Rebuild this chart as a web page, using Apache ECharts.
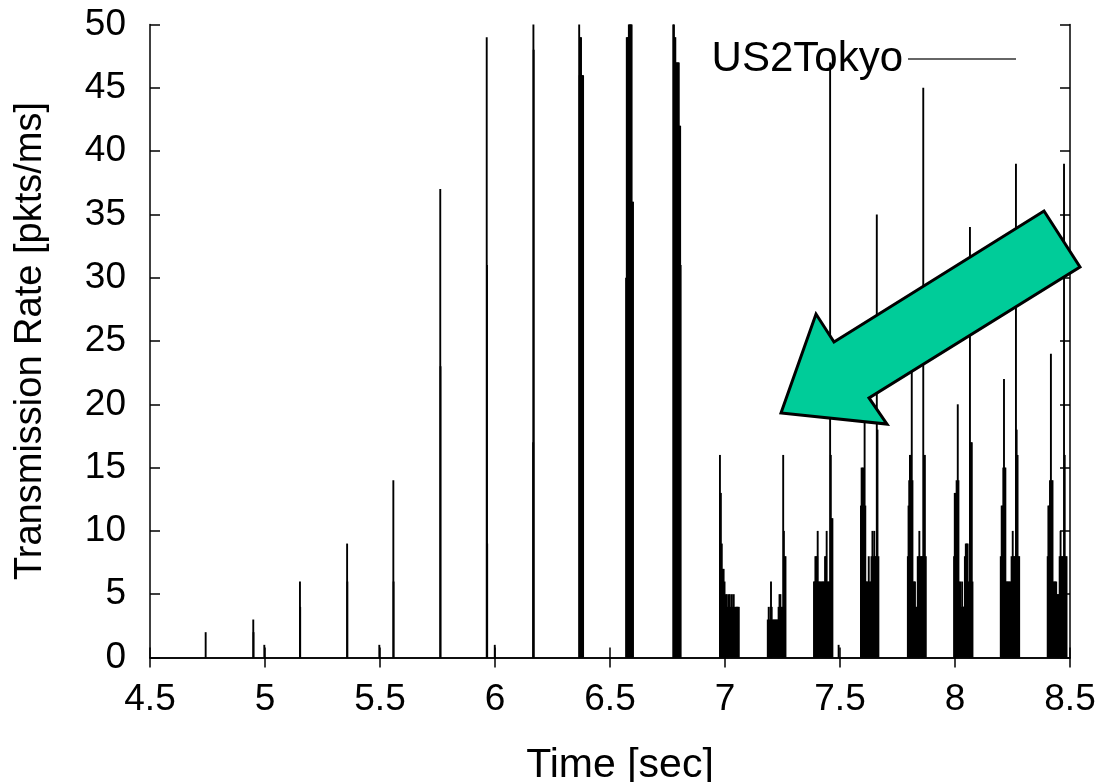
<!DOCTYPE html>
<html>
<head>
<meta charset="utf-8">
<script src="https://cdn.jsdelivr.net/npm/echarts@6/dist/echarts.min.js"></script>
<style>
html,body{margin:0;padding:0;background:#fff;}
#chart{width:1103px;height:782px;}
</style>
</head>
<body>
<div id="chart"></div>
<script>
// ---- data: [time (sec), rate (pkts/ms)] impulses ----
const slowStart = [
  [4.742, 2], [4.949, 3], [4.950, 2], [4.997, 1],
  [5.152, 6], [5.153, 4], [5.357, 9], [5.358, 6], [5.497, 1],
  [5.558, 14], [5.559, 6], [5.762, 37], [5.763, 23],
  [5.964, 49], [5.965, 31], [5.966, 9], [5.999, 1],
  [6.166, 17], [6.167, 52], [6.168, 48]
];
const burst637 = [[6.366, 52], [6.368, 46], [6.371, 49], [6.374, 49], [6.377, 46], [6.380, 46], [6.383, 46]];
const burst657 = [[6.570, 30], [6.573, 49], [6.576, 49], [6.579, 49], [6.582, 52], [6.585, 52], [6.588, 52], [6.591, 52], [6.594, 52], [6.597, 36], [6.600, 36]];
const burst677 = [[6.775, 52], [6.778, 52], [6.781, 49], [6.784, 49], [6.787, 47], [6.790, 47], [6.793, 47], [6.796, 47], [6.799, 47], [6.802, 42], [6.805, 42], [6.807, 31]];
const burst700 = [[6.978, 16], [6.982, 13], [6.986, 9], [6.990, 7], [6.994, 7], [6.998, 6], [7.003, 5], [7.008, 5], [7.012, 4], [7.016, 5], [7.021, 5], [7.025, 4], [7.030, 5], [7.034, 4], [7.038, 5], [7.043, 4], [7.047, 4], [7.052, 4], [7.056, 4], [7.060, 4]];
const burst720 = [[7.186, 3], [7.190, 4], [7.194, 3], [7.198, 4], [7.200, 6], [7.203, 4], [7.207, 3], [7.211, 3], [7.216, 3], [7.220, 3], [7.225, 3], [7.229, 3], [7.233, 4], [7.237, 5], [7.241, 5], [7.246, 4], [7.250, 4], [7.253, 16], [7.256, 10], [7.259, 8], [7.263, 8]];
const burst740 = [[7.387, 6], [7.390, 6], [7.393, 8], [7.397, 8], [7.401, 8], [7.403, 10], [7.406, 6], [7.410, 6], [7.414, 6], [7.419, 6], [7.423, 6], [7.427, 6], [7.431, 6], [7.435, 8], [7.439, 8], [7.442, 10], [7.445, 6], [7.449, 6], [7.453, 6], [7.457, 47], [7.460, 16], [7.464, 11], [7.467, 11], [7.494, 1]];
const burst760 = [[7.591, 12], [7.594, 15], [7.598, 15], [7.602, 15], [7.607, 20], [7.610, 12], [7.613, 6], [7.617, 6], [7.621, 6], [7.625, 8], [7.629, 6], [7.633, 6], [7.637, 8], [7.641, 10], [7.645, 8], [7.649, 10], [7.652, 8], [7.656, 8], [7.660, 35], [7.663, 18], [7.667, 8]];
const burst780 = [[7.795, 8], [7.798, 12], [7.801, 14], [7.804, 16], [7.808, 16], [7.812, 23], [7.815, 14], [7.818, 6], [7.822, 6], [7.826, 6], [7.830, 4], [7.834, 4], [7.838, 8], [7.842, 8], [7.845, 10], [7.849, 8], [7.853, 8], [7.857, 8], [7.860, 8], [7.862, 45], [7.865, 16], [7.869, 16], [7.873, 8]];
const burst800 = [[7.996, 8], [7.999, 13], [8.003, 13], [8.007, 14], [8.012, 20], [8.015, 14], [8.019, 6], [8.023, 6], [8.027, 4], [8.031, 6], [8.035, 4], [8.039, 4], [8.043, 8], [8.047, 9], [8.051, 9], [8.055, 9], [8.059, 6], [8.063, 6], [8.065, 34], [8.069, 17], [8.073, 17], [8.076, 6]];
const burst820 = [[8.199, 8], [8.203, 12], [8.207, 12], [8.210, 15], [8.213, 22], [8.216, 15], [8.219, 15], [8.222, 6], [8.226, 6], [8.230, 6], [8.234, 6], [8.238, 6], [8.242, 6], [8.246, 8], [8.251, 10], [8.254, 8], [8.258, 8], [8.262, 8], [8.265, 39], [8.268, 18], [8.272, 16], [8.276, 8], [8.279, 8]];
const burst840 = [[8.403, 8], [8.406, 12], [8.410, 12], [8.413, 14], [8.417, 24], [8.420, 14], [8.424, 14], [8.428, 6], [8.432, 6], [8.436, 6], [8.440, 6], [8.444, 5], [8.448, 5], [8.451, 5], [8.455, 8], [8.459, 10], [8.462, 8], [8.466, 8], [8.470, 8], [8.474, 39], [8.477, 16], [8.481, 8], [8.485, 8]];

const seriesName = 'US2Tokyo';
const xTicks = { min: 4.5, max: 8.5, interval: 0.5 };
const yTicks = { min: 0, max: 50, interval: 5 };
// annotation arrow outline, in data coordinates
const arrowOutline = [[7.2435, 19.31], [7.3957, 27.13], [7.4739, 24.92], [8.3870, 35.27], [8.5435, 30.85], [7.6261, 20.50], [7.7043, 18.44]];

const allData = [].concat(slowStart, burst637, burst657, burst677, burst700, burst720, burst740, burst760, burst780, burst800, burst820, burst840);

const FONT = 'Liberation Sans, Arial, sans-serif';
const chart = echarts.init(document.getElementById('chart'), null, { renderer: 'canvas' });

const axisLineStyle = { color: '#000', width: 1.5 };
const tickStyle = { show: true, inside: true, length: 10, lineStyle: { color: '#000', width: 1.5 } };

chart.setOption({
  animation: false,
  backgroundColor: '#fff',
  grid: { left: 150, right: 33, top: 24.5, bottom: 124.5, containLabel: false, outerBoundsMode: 'none' },
  legend: {
    data: [{ name: seriesName, icon: 'rect' }],
    right: 82, top: 33,
    align: 'right',
    itemWidth: 108, itemHeight: 1.5,
    itemStyle: { color: '#333' },
    textStyle: { fontFamily: FONT, fontSize: 42, color: '#000' },
    selectedMode: false
  },
  xAxis: [{
    type: 'value', position: 'bottom',
    min: xTicks.min, max: xTicks.max, interval: xTicks.interval,
    axisLine: { show: true, lineStyle: axisLineStyle },
    axisTick: tickStyle,
    splitLine: { show: false },
    axisLabel: { color: '#000', fontFamily: FONT, fontSize: 37, margin: 24 },
    name: 'Time [sec]', nameLocation: 'middle', nameGap: 88,
    nameTextStyle: { color: '#000', fontFamily: FONT, fontSize: 41, padding: [0, 0, 0, 20] }
  }, {
    type: 'value', position: 'top',
    min: xTicks.min, max: xTicks.max, interval: xTicks.interval,
    axisLine: { show: true, lineStyle: axisLineStyle },
    axisTick: tickStyle,
    splitLine: { show: false },
    axisLabel: { show: false }
  }],
  yAxis: [{
    type: 'value', position: 'left',
    min: yTicks.min, max: yTicks.max, interval: yTicks.interval,
    axisLine: { show: true, lineStyle: axisLineStyle },
    axisTick: tickStyle,
    splitLine: { show: false },
    axisLabel: { color: '#000', fontFamily: FONT, fontSize: 37, margin: 24 },
    name: 'Transmission Rate [pkts/ms]', nameLocation: 'middle', nameGap: 100, nameRotate: 90,
    nameTextStyle: { color: '#000', fontFamily: FONT, fontSize: 38 }
  }, {
    type: 'value', position: 'right',
    min: yTicks.min, max: yTicks.max, interval: yTicks.interval,
    axisLine: { show: true, lineStyle: axisLineStyle },
    axisTick: tickStyle,
    splitLine: { show: false },
    axisLabel: { show: false }
  }],
  series: [{
    name: seriesName,
    type: 'bar',
    xAxisIndex: 0, yAxisIndex: 0,
    data: allData,
    barWidth: 1.9,
    itemStyle: { color: '#000' },
    clip: true,
    silent: true
  }]
});

const pts = arrowOutline.map(p => chart.convertToPixel({ gridIndex: 0 }, p));
chart.setOption({
  graphic: [{
    type: 'polygon',
    z: 100,
    shape: { points: pts },
    style: { fill: '#00CC99', stroke: '#000', lineWidth: 3, lineJoin: 'miter' }
  }]
});
</script>
</body>
</html>
